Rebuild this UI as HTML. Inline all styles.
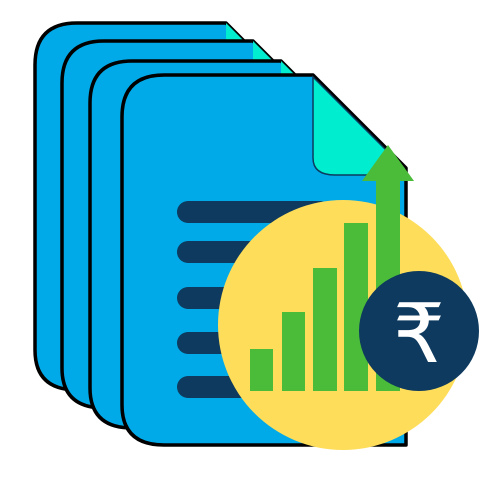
<!DOCTYPE html>
<html><head><style>body{margin:0;background:#fff}svg{display:block}</style></head><body>
<svg width="500" height="500" viewBox="0 0 500 500" xmlns="http://www.w3.org/2000/svg">
<g stroke="#000" stroke-width="3.5" stroke-linejoin="round">
<path d="M35 65 Q35 23 77 23 H226 L300 97 V390 H77 Q35 390 35 350 Z" fill="#00aae8"/>
<path d="M226 23 L300 97 L300 120 L226 120 Z" fill="#00eecf" stroke="none"/>
<path d="M62 83 Q62 41 104 41 H253 L327 115 V408 H104 Q62 408 62 368 Z" fill="#00aae8"/>
<path d="M253 41 L327 115 L327 130 L253 130 Z" fill="#00eecf" stroke="none"/>
<path d="M90 103 Q90 61 132 61 H281 L355 135 V428 H132 Q90 428 90 388 Z" fill="#00aae8"/>
<path d="M281 61 L355 135 L355 150 L281 150 Z" fill="#00eecf" stroke="none"/>
<path d="M122 117 Q122 75 164 75 H313 L406 168 V445 H164 Q122 445 122 405 Z" fill="#00aae8"/>
</g>
<path d="M313 77 L404 168 V175 H335 Q313 175 313 158 Z" fill="#00eecf" stroke="#0d3a5e" stroke-width="1.5"/>
<g stroke="#0d3a5e" stroke-width="22" stroke-linecap="round">
<line x1="188" y1="212" x2="320" y2="212"/>
<line x1="188" y1="252" x2="320" y2="252"/>
<line x1="188" y1="298" x2="320" y2="298"/>
<line x1="188" y1="343" x2="320" y2="343"/>
<line x1="188" y1="387" x2="320" y2="387"/>
</g>
<circle cx="343" cy="325" r="125" fill="#fddd5a"/>
<g fill="#4bbb3a">
<rect x="250" y="349" width="23" height="42"/>
<rect x="282" y="312" width="23" height="79"/>
<rect x="313" y="268" width="24" height="123"/>
<rect x="344" y="223" width="24" height="168"/>
<rect x="376" y="178" width="24" height="213"/>
<polygon points="388,145 414,181 362,181"/>
</g>
<circle cx="419" cy="331" r="60" fill="#0d3a5e"/>
<text x="419" y="362" text-anchor="middle" font-family="DejaVu Sans, sans-serif" font-size="82" fill="#fff">₹</text>
</svg>
</body></html>
